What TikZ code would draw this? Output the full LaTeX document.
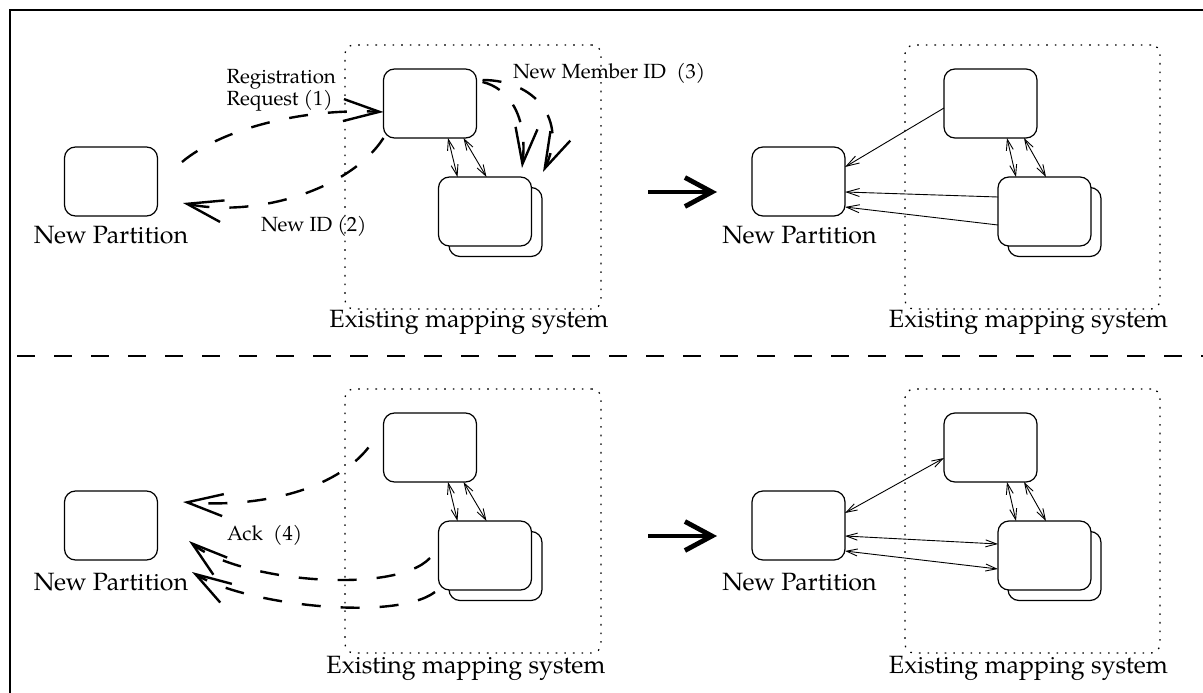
\documentclass[tikz,border=0pt]{standalone}
\usepackage{fontspec}
\setmainfont{TeX Gyre Pagella}
\usetikzlibrary{arrows.meta}
\begin{document}
\begin{tikzpicture}[x=1pt,y=-1pt,
  rbox/.style={draw, line width=1.2pt, rounded corners=11pt, minimum width=93pt, minimum height=69pt, inner sep=0pt, outer sep=0pt, fill=white},
  sysbox/.style={draw, line width=1.3pt, dash pattern=on 1.6pt off 7pt, rounded corners=9pt, minimum height=264pt, inner sep=0pt, outer sep=0pt},
  biglabel/.style={font=\fontsize{25}{30}\selectfont, anchor=base, inner sep=0pt},
  smalllabel/.style={font=\fontsize{20.5}{20}\selectfont, anchor=base west, inner sep=0pt, align=left},
  msg/.style={line width=2.4pt, dash pattern=on 19pt off 20pt, -{Straight Barb[length=36pt,width=22pt]}},
  link/.style={line width=0.9pt, -{Straight Barb[length=13pt,width=8pt]}},
  dlink/.style={line width=0.9pt, {Straight Barb[length=11pt,width=7pt]}-{Straight Barb[length=11pt,width=7pt]}},
  bigarrow/.style={line width=4.8pt, -{Straight Barb[length=27pt,width=29pt]}}
]
\useasboundingbox (0,0) rectangle (1203,693);
% frame
\draw[line width=1.5pt] (10,693) -- (10,10) -- (1203,10);
% separator
\draw[line width=1.3pt, dash pattern=on 18pt off 19pt] (17,356) -- (1203,356);

% ===== top left =====
\node[sysbox, minimum width=256pt] (sys1) at (473,177) {};
\node[rbox] (np1) at (111,181.5) {};
\node[biglabel] (np1l) at (111,243) {New Partition};
\node[rbox] (b1) at (495.5,222) {};
\node[rbox] (s1) at (430,103.5) {};
\node[rbox] (f1) at (485,211.5) {};
\node[biglabel] (sys1l) at (469,327) {Existing mapping system};
\coordinate (r1s) at (182,162);
\coordinate (n1t) at (183,203);
\coordinate (m1a) at (522,168);
\coordinate (m1b) at (543,172);
\draw[msg] (r1s) .. controls (220,130) and (300,108) .. ([yshift=-8.5pt]s1.west);
\draw[msg] (s1.south west) .. controls (350,190) and (255,218) .. (n1t);
\draw[msg] ([xshift=6pt,yshift=21.5pt]s1.east) .. controls (508,88) and (528,115) .. (m1a);
\draw[msg] ([xshift=6pt,yshift=23.5pt]s1.east) .. controls (535,80) and (568,120) .. (m1b);
\draw[dlink] ([xshift=64.5pt]s1.south west) -- ([xshift=19pt]f1.north west);
\draw[dlink] ([xshift=80pt]s1.south west) -- ([xshift=48pt]f1.north west);
\node[smalllabel, anchor=north west] (reg) at (226.5,69) {Registration\\Request (1)};
\node[smalllabel] (nid) at (261,231) {New ID (2)};
\node[smalllabel] (nmid) at (513,78) {New Member ID~~(3)};

% big arrows
\coordinate (ba1s) at (648,192);
\coordinate (ba1e) at (717,192);
\draw[bigarrow] (ba1s) -- (ba1e);
\coordinate (ba2s) at (648,536);
\coordinate (ba2e) at (717,536);
\draw[bigarrow] (ba2s) -- (ba2e);

% ===== top right =====
\node[sysbox, minimum width=255pt] (sys2) at (1032.5,177) {};
\node[rbox] (np2) at (798.5,181.5) {};
\node[biglabel] (np2l) at (799.5,243) {New Partition};
\node[rbox] (b2) at (1054.5,222) {};
\node[rbox] (s2) at (990.5,103.5) {};
\node[rbox] (f2) at (1044.5,211.5) {};
\node[biglabel] (sys2l) at (1028.5,327) {Existing mapping system};
\draw[link] ([yshift=-4.5pt]s2.west) -- ([yshift=14.5pt]np2.east);
\draw[link] ([yshift=-20pt]f2.north west) -- ([yshift=-10.5pt]np2.east);
\draw[link] ([yshift=-48pt]f2.north west) -- ([yshift=-25.5pt]np2.east);
\draw[dlink] ([xshift=63pt]s2.south west) -- ([xshift=18pt]f2.north west);
\draw[dlink] ([xshift=80pt]s2.south west) -- ([xshift=48pt]f2.north west);

% ===== bottom left =====
\node[sysbox, minimum width=256pt] (sys3) at (473,521) {};
\node[rbox] (np3) at (111,525.5) {};
\node[biglabel] (np3l) at (111,590) {New Partition};
\node[rbox] (b3) at (495.5,566) {};
\node[rbox] (s3) at (430,447.5) {};
\node[rbox] (f3) at (485,555.5) {};
\node[biglabel] (sys3l) at (466,673) {Existing mapping system};
\coordinate (a1t) at (183,502);
\coordinate (a2t) at (189,541);
\coordinate (a3t) at (192,572);
\draw[msg] ([xshift=-15pt]s3.west) .. controls (335,490) and (260,508) .. (a1t);
\draw[msg] ([xshift=-8.5pt,yshift=-2.5pt]f3.west) .. controls (395,595) and (240,582) .. (a2t);
\draw[msg] ([xshift=-3.5pt,yshift=-2pt]f3.south west) .. controls (395,622) and (245,605) .. (a3t);
\draw[dlink] ([xshift=64.5pt]s3.south west) -- ([xshift=19pt]f3.north west);
\draw[dlink] ([xshift=80pt]s3.south west) -- ([xshift=48pt]f3.north west);
\node[smalllabel] (ack) at (227,540) {Ack~~(4)};

% ===== bottom right =====
\node[sysbox, minimum width=255pt] (sys4) at (1032.5,521) {};
\node[rbox] (np4) at (798.5,525.5) {};
\node[biglabel] (np4l) at (799.5,590) {New Partition};
\node[rbox] (b4) at (1054.5,566) {};
\node[rbox] (s4) at (990.5,447.5) {};
\node[rbox] (f4) at (1044.5,555.5) {};
\node[biglabel] (sys4l) at (1028.5,673) {Existing mapping system};
\draw[dlink] ([yshift=-10.5pt]s4.west) -- ([yshift=12.5pt]np4.east);
\draw[dlink] ([yshift=-10.5pt]np4.east) -- ([yshift=-23pt]f4.north west);
\draw[dlink] ([yshift=-25.5pt]np4.east) -- ([yshift=-48pt]f4.north west);
\draw[dlink] ([xshift=63pt]s4.south west) -- ([xshift=18pt]f4.north west);
\draw[dlink] ([xshift=80pt]s4.south west) -- ([xshift=48pt]f4.north west);
\end{tikzpicture}
\end{document}
